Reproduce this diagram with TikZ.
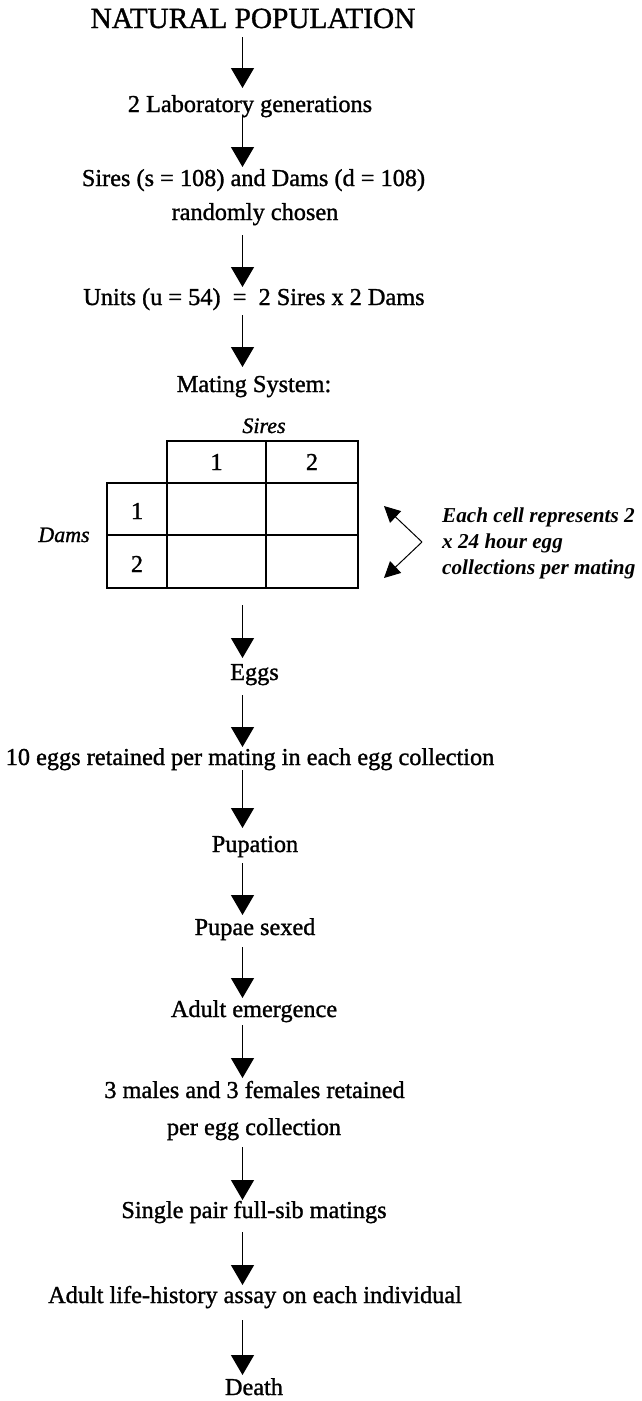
\documentclass[tikz,border=0pt]{standalone}
\usepackage{fontspec}
\setmainfont{Liberation Serif}[UprightFeatures={FakeBold=1.2},ItalicFeatures={FakeBold=1.2}]
\usetikzlibrary{arrows.meta,calc}
\tikzset{
  txt/.style={inner sep=0pt, anchor=base, font=\fontsize{24.3}{29}\selectfont},
  ttl/.style={inner sep=0pt, anchor=base, font=\fontsize{29.3}{34}\selectfont},
  itl/.style={inner sep=0pt, anchor=base, font=\fontsize{22}{26}\selectfont\itshape},
  note/.style={inner sep=0pt, anchor=base west, font=\fontsize{21.2}{26}\selectfont\bfseries\itshape},
  arr/.style={line width=1.3pt, -{Triangle[length=20pt,width=23pt]}},
  brk/.style={line width=1pt, -{Triangle[length=16pt,width=16pt]}},
  grid/.style={line width=1.4pt}
}
\newcommand\flow[4]{\draw[arr] ($(ax|-#1.base)+(0,#2)$) -- ($(ax|-#3.base)+(0,#4)$);}
\begin{document}
\begin{tikzpicture}[x=1pt,y=-1pt]
\path[use as bounding box] (0,0) rectangle (641,1401);
\coordinate (ax) at (242.5,0);
% text nodes
\node[ttl] (title) at (253,28) {NATURAL POPULATION};
\node[txt] (lab) at (250,112) {2 Laboratory generations};
\node[txt] (sires) at (253.5,186) {Sires (s = 108) and Dams (d = 108)};
\node[txt] (rand) at (255,220) {randomly chosen};
\node[txt] (units) at (254,305) {Units (u = 54) \ = \ 2 Sires x 2 Dams};
\node[txt] (mating) at (254,392) {Mating System:};
% table
\node[itl] (sl) at (264,433) {Sires};
\node[itl] (dl) at (64,542) {Dams};
\draw[grid] (167,441) rectangle (358,483);
\draw[grid] (266,441) -- (266,483);
\draw[grid] (107,483) rectangle (358,588);
\draw[grid] (167,483) -- (167,588);
\draw[grid] (266,483) -- (266,588);
\draw[grid] (107,535) -- (358,535);
\coordinate (tb) at (242.5,588);
\node[txt] (c1) at (216.5,470) {1};
\node[txt] (c2) at (312,470) {2};
\node[txt] (r1) at (137,519) {1};
\node[txt] (r2) at (137,572) {2};
% bracket and note
\coordinate (bv) at (422,542);
\coordinate (bt) at (384,506);
\coordinate (bb) at (384,578);
\draw[brk] (bv) -- (bt);
\draw[brk] (bv) -- (bb);
\node[note] (n1) at (442,522) {Each cell represents 2};
\node[note] (n2) at (442,548) {x 24 hour egg};
\node[note] (n3) at (442,574) {collections per mating};
% lower chain
\node[txt] (eggs) at (254.5,680) {Eggs};
\node[txt] (ten) at (250,765) {10 eggs retained per mating in each egg collection};
\node[txt] (pup) at (255,852) {Pupation};
\node[txt] (sex) at (255,935) {Pupae sexed};
\node[txt] (emer) at (254,1017) {Adult emergence};
\node[txt] (males) at (254.5,1098) {3 males and 3 females retained};
\node[txt] (peregg) at (254,1135) {per egg collection};
\node[txt] (single) at (254,1218) {Single pair full-sib matings};
\node[txt] (assay) at (255,1303) {Adult life-history assay on each individual};
\node[txt] (death) at (254,1395) {Death};
% arrows
\flow{title}{9}{lab}{-24}
\flow{lab}{3}{sires}{-19}
\flow{rand}{15}{units}{-18}
\flow{units}{10}{mating}{-25}
\draw[arr] ($(tb)+(0,17)$) -- ($(ax|-eggs.base)+(0,-22)$);
\flow{eggs}{15}{ten}{-18}
\flow{ten}{5}{pup}{-24}
\flow{pup}{11}{sex}{-20}
\flow{sex}{12}{emer}{-19}
\flow{emer}{8}{males}{-20}
\flow{peregg}{12}{single}{-18}
\flow{single}{14}{assay}{-18}
\flow{assay}{17}{death}{-20}
\end{tikzpicture}
\end{document}
